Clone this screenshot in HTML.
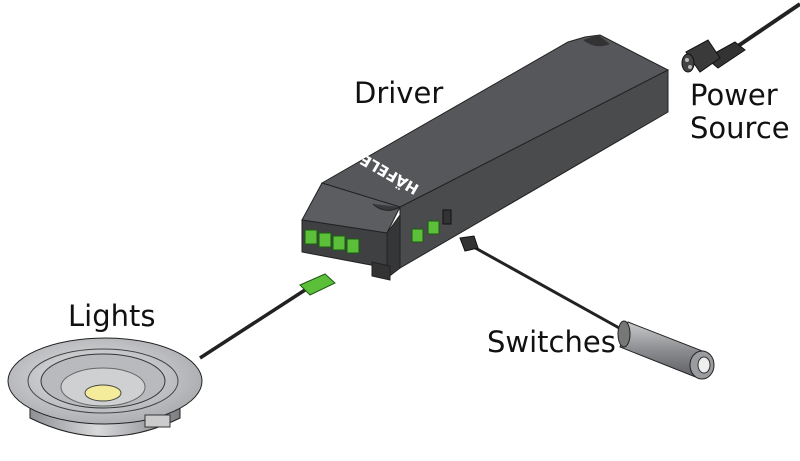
<!DOCTYPE html>
<html><head><style>
html,body{margin:0;padding:0;background:#fff;}
svg{display:block;}
text{font-family:"DejaVu Sans","Liberation Sans",sans-serif;font-size:29px;fill:#111;}
</style></head><body>
<svg width="800" height="461" viewBox="0 0 800 461" xmlns="http://www.w3.org/2000/svg">
<defs>
<linearGradient id="met" x1="0" x2="1" y1="0" y2="0">
<stop offset="0" stop-color="#8e9094"/><stop offset="0.45" stop-color="#d8d9db"/><stop offset="1" stop-color="#7c7e82"/>
</linearGradient>
<radialGradient id="rim" cx="0.45" cy="0.45" r="0.6">
<stop offset="0" stop-color="#e4e5e7"/><stop offset="1" stop-color="#a9abae"/>
</radialGradient>
<linearGradient id="sw" x1="0" x2="0" y1="0" y2="1">
<stop offset="0" stop-color="#c9cacc"/><stop offset="0.5" stop-color="#8b8d90"/><stop offset="1" stop-color="#5c5e61"/>
</linearGradient>
</defs>

<!-- power cable & plug -->
<path d="M800 4 L738 46" stroke="#222" stroke-width="4" fill="none"/>
<polygon points="735,42 745,50 718,68 706,58" fill="#333" stroke="#111"/>
<polygon points="686,52 708,40 720,58 700,72" fill="#3a3a3a" stroke="#111"/>
<ellipse cx="688" cy="63" rx="6" ry="9" fill="#444" stroke="#111"/>
<circle cx="687" cy="60" r="2" fill="#bbb"/><circle cx="690" cy="67" r="2" fill="#bbb"/>

<!-- driver -->
<polygon points="400,207 668,70 668,112 400,268" fill="#4a4b4d" stroke="#222"/>
<polygon points="322,183 568,42 585,37 600,35 668,70 400,207" fill="#56575a" stroke="#222"/>
<path d="M583 40 Q595 50 610 44 L598 35 Z" fill="#333"/>
<polygon points="302,220 322,183 400,207 387,233" fill="#5c5d60" stroke="#222"/>
<path d="M373 204 Q385 215 400 207" fill="#3a3a3c" stroke="#222"/>
<polygon points="302,220 387,233 387,268 302,252" fill="#3f4042" stroke="#222"/>
<polygon points="387,233 400,215 400,268 387,278" fill="#353638" stroke="#222"/>
<polygon points="372,262 390,266 390,280 372,276" fill="#333" stroke="#222"/>
<!-- terminals -->
<g fill="#5bbf3a" stroke="#1d5a12" stroke-width="1">
<rect x="305" y="230" width="12" height="14"/><rect x="319" y="233" width="12" height="14"/>
<rect x="333" y="236" width="12" height="14"/><rect x="347" y="239" width="12" height="14"/>
<rect x="412" y="229" width="11" height="13"/><rect x="428" y="221" width="11" height="13"/>
</g>
<rect x="443" y="210" width="8" height="14" fill="#333" stroke="#111"/>
<text x="0" y="0" transform="translate(420,186) rotate(210)" style="font-size:15px;fill:#fff;font-weight:bold">HÄFELE</text>

<!-- light connector & cable -->
<path d="M200 358 L305 290" stroke="#222" stroke-width="3.5" fill="none"/>
<polygon points="300,285 325,274 335,283 310,295" fill="#5bbf3a" stroke="#1d5a12"/>

<!-- switch cable -->
<path d="M470 245 L630 334" stroke="#222" stroke-width="3" fill="none"/>
<polygon points="460,238 474,236 478,248 465,251" fill="#333" stroke="#111"/>
<polygon points="628,322 705,352 698,378 620,347" fill="url(#sw)" stroke="#222"/>
<ellipse cx="624" cy="334" rx="6" ry="13" fill="#777" stroke="#222"/>
<ellipse cx="702" cy="365" rx="12" ry="14" fill="#9a9c9f" stroke="#222"/>
<ellipse cx="704" cy="365" rx="6" ry="8" fill="#eee" stroke="#333"/>

<!-- light -->
<path d="M30 385 L30 418 Q105 455 180 418 L180 385 Z" fill="url(#met)" stroke="#222"/>
<ellipse cx="105" cy="381" rx="97" ry="43" fill="url(#rim)" stroke="#222"/>
<ellipse cx="103" cy="381" rx="75" ry="32" fill="none" stroke="#444"/>
<ellipse cx="103" cy="381" rx="62" ry="27" fill="#b8babd" stroke="#333"/>
<ellipse cx="103" cy="387" rx="42" ry="19" fill="#cfd0d2" stroke="#666"/>
<ellipse cx="103" cy="393" rx="18" ry="8" fill="#f4ec9a" stroke="#444"/>
<rect x="145" y="415" width="25" height="12" fill="#ccc" stroke="#333"/>

<!-- labels -->
<text x="354" y="103">Driver</text>
<text x="690" y="105">Power</text>
<text x="690" y="138">Source</text>
<text x="68" y="326">Lights</text>
<text x="487" y="352">Switches</text>
</svg>
</body></html>
